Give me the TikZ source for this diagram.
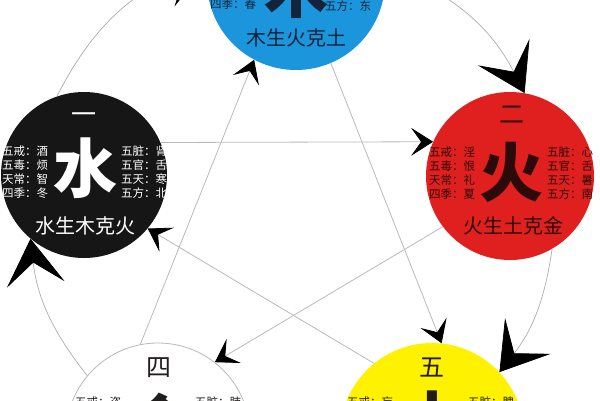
\documentclass[tikz,border=0pt]{standalone}
\usepackage{fontspec}
\newfontfamily\cjk{Noto Sans CJK SC}
\usetikzlibrary{arrows.meta}
\definecolor{woodblue}{RGB}{27,150,220}
\definecolor{firered}{RGB}{224,32,30}
\definecolor{earthyellow}{RGB}{255,242,0}
\definecolor{waterblack}{RGB}{22,22,22}
\definecolor{inkdark}{RGB}{35,30,30}
\definecolor{inknavy}{RGB}{20,35,60}
\definecolor{inkred}{RGB}{45,10,10}
\begin{document}
\begin{tikzpicture}[x=1pt, y=1pt,
    elem/.style={circle, inner sep=0pt, minimum size=#1},
    sheng/.style={draw=gray!65, line width=0.7pt, -{Stealth[length=46pt, width=58pt, inset=22pt, black]}},
    ke/.style={draw=gray!55, line width=0.8pt, -{Stealth[length=22pt, width=28pt, inset=10pt, black]}},
    num/.style={font=\cjk\fontsize{25}{25}\selectfont},
    big/.style={font=\cjk\bfseries\fontsize{64}{64}\selectfont},
    rows/.style={font=\cjk\fontsize{11.5}{14}\selectfont, align=left, inner sep=0pt},
    motto/.style={font=\cjk\fontsize{20}{20}\selectfont}]
    \useasboundingbox (0,0) rectangle (600,-400);

    \node[elem=178pt, fill=woodblue] (wood) at (296,19) {};
    \node[elem=166pt, fill=waterblack] (water) at (84,-175) {};
    \node[elem=168pt, fill=firered] (fire) at (510,-176) {};
    \node[elem=184pt, fill=white, draw=gray!55, line width=0.8pt] (metal) at (158,-435) {};
    \node[elem=184pt, fill=earthyellow] (earth) at (432,-435) {};

    \draw[sheng] (water.109) to[bend left=22] (wood.169);
    \draw[sheng] (wood.9) to[bend left=21] (fire.80);
    \draw[sheng] (fire.300) to[bend left=15] (earth.43);
    \draw[sheng] (metal.140) to[bend left=16] (water.230);

    \draw[ke] (water.23) -- (fire.156);
    \draw[ke] (fire.217) -- (metal.52);
    \draw[ke] (metal.101) -- (wood.242);
    \draw[ke] (wood.293) -- (earth.84);
    \draw[ke] (earth.129) -- (water.320);

    \node[big, inknavy] (woodBig) at (296,12) {木};
    \node[rows, inknavy] (woodL) at (233,-4) {四季：春};
    \node[rows, inknavy] (woodR) at (348,-6) {五方：东};
    \node[motto, inknavy] (woodMotto) at (296,-38) {木生火克土};

    \node[num, white] (waterNum) at (84,-118) {一};
    \node[big, white] (waterBig) at (85,-168) {水};
    \node[rows, white] (waterL) at (25,-172) {五戒：酒\\五毒：烦\\天常：智\\四季：冬};
    \node[rows, white] (waterR) at (144,-172) {五脏：肾\\五官：舌\\五天：寒\\五方：北};
    \node[motto, white] (waterMotto) at (85,-226) {水生木克火};

    \node[num, inkred] (fireNum) at (512,-115) {二};
    \node[big, inkred] (fireBig) at (511,-172) {火};
    \node[rows, inkred] (fireL) at (452,-173) {五戒：淫\\五毒：恨\\天常：礼\\四季：夏};
    \node[rows, inkred] (fireR) at (570,-173) {五脏：心\\五官：舌\\五天：暑\\五方：南};
    \node[motto, inkred] (fireMotto) at (513,-226) {火生土克金};

    \node[num, inkdark] (metalNum) at (159,-368) {四};
    \node[big, inkdark] (metalBig) at (160,-423) {金};
    \node[rows, inkdark] (metalL) at (98,-402) {五戒：盗};
    \node[rows, inkdark] (metalR) at (218,-402) {五脏：肺};

    \node[num, inkdark] (earthNum) at (432,-368) {五};
    \node[big, inkdark] (earthBig) at (432,-420) {土};
    \node[rows, inkdark] (earthL) at (370,-402) {五戒：妄};
    \node[rows, inkdark] (earthR) at (491,-402) {五脏：脾};
\end{tikzpicture}
\end{document}
